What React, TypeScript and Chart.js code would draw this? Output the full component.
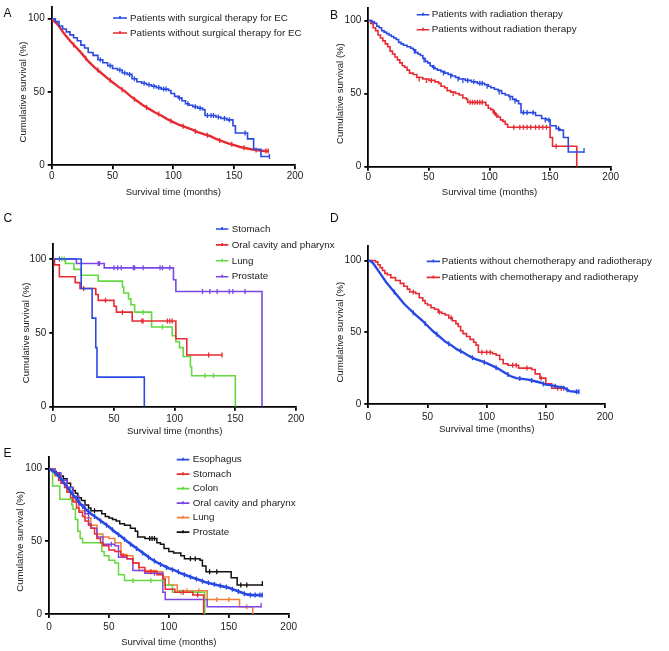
import { useEffect, useRef } from 'react';
import { Chart, registerables } from 'chart.js';

Chart.register(...registerables);

const FONT = '"Liberation Sans", Arial, Helvetica, sans-serif';
const BLUE = '#2a49e2';
const RED = '#e62b33';
const GREEN = '#64d83f';
const PURPLE = '#7b47e4';
const ORANGE = '#f27d38';
const BLACK = '#111111';
const TEXT = '#222222';

type Pt = [number, number];

// ---------- Panel A ----------
const aWithSurgery: Pt[] = [[0,100],[3,98],[6,95],[9,93],[12,91],[15,89],[18,87],[21,85],[24,82],[27,80],[30,77],[34,75],[38,72],[42,70],[46,68],[50,66],[54,65],[58,63],[62,62],[66,59],[70,57],[74,56],[78,55],[82,54],[86,53],[90,52],[96,51],[98,49],[101,47],[104,46],[107,44],[110,42],[113,41],[116,40],[120,39],[124,38],[126,34],[135,33],[139,32],[144,31],[149,27],[151,22],[161,18],[166,11],[172,6],[179,6]];
const aWithSurgeryCensor: Pt[] = [[40,72],[48,68],[56,65],[60,63],[64,62],[68,59],[76,56],[80,55],[84,54],[88,53],[92,52],[94,52],[105,46],[112,42],[118,40],[122,39],[128,34],[131,34],[133,34],[137,33],[142,32],[146,31],[159,22],[179,6]];
const aWithoutSurgery: Pt[] = [[0,100],[5,96],[10,90],[15,85],[20,80.5],[25,76],[30,71],[35,67],[40,63.5],[45,60],[50,56.7],[55,53.5],[60,50.6],[65,47],[70,44],[75,41],[80,38.5],[85,36],[90,34],[95,31.5],[100,29.5],[105,27.5],[110,26],[115,24.5],[120,22.7],[125,21.3],[130,20],[135,18],[140,16.5],[145,15],[150,13.8],[155,12.5],[160,11.6],[165,10.8],[170,10.2],[175,9.8],[178,9.8]];
const aWithoutSurgeryCensor: Pt[] = [[18,82],[28,73],[38,65],[48,58],[58,51.5],[68,45],[78,39.5],[88,35],[98,30.3],[108,26.6],[118,23.3],[128,20.5],[138,17],[148,14.3],[158,12],[168,10.5],[176,9.8],[178,9.8]];

// ---------- Panel B ----------
const bWithRadiation: Pt[] = [[0,100],[3,99],[5,98],[7,96],[9,95],[11,93],[13,92],[15,91],[17,90],[19,89],[21,88],[23,87],[25,85],[27,84],[29,83],[32,82],[35,81],[37,80],[39,78],[41,77],[43,76],[45,74],[47,72],[49,71],[51,69],[53,68],[55,67],[57,66],[60,65],[63,64],[66,63],[69,62],[72,61],[75,60],[80,59],[85,58],[90,57],[96,56],[99,55],[101,54],[104,53],[107,52],[110,50],[113,49],[116,48],[119,46],[122,45],[124,43],[126,37],[138,35],[143,33],[147,32],[150,28],[155,26],[158,25],[161,20],[165,10],[178,10]];
const bWithRadiationCensor: Pt[] = [[38,79],[46,73],[54,68],[62,64],[68,62],[74,60],[78,59],[82,59],[87,58],[92,57],[94,57],[98,55],[108,51],[117,47],[121,45],[128,37],[131,37],[136,37],[146,32],[149,32],[157,26],[178,11]];
const bWithoutRadiation: Pt[] = [[0,100],[2,98],[4,95],[6,93],[8,90],[10,88],[12,86],[14,84],[16,82],[18,79],[20,77],[22,75],[24,73],[26,71],[28,69],[30,68],[32,66],[34,64],[37,63],[40,61],[45,60],[50,59],[55,58],[58,57],[60,55],[63,54],[65,52],[68,51],[72,50],[75,49],[78,47],[81,46],[82,44],[97,42],[99,40],[101,39],[103,37],[105,35],[107,34],[109,32],[111,31],[113,29],[115,27],[149,27],[150,20],[152,14],[171,14],[172,0]];
const bWithoutRadiationCensor: Pt[] = [[42,60],[48,59],[52,59],[70,50],[84,44],[86,44],[88,44],[90,44],[92,44],[94,44],[104,37],[106,35],[120,27],[125,27],[128,27],[131,27],[134,27],[138,27],[141,27],[144,27],[147,27],[155,14]];

// ---------- Panel C ----------
const cStomach: Pt[] = [[0,100],[23,80],[32,60],[35,40],[36,20],[75,0]];
const cStomachCensor: Pt[] = [];
const cOral: Pt[] = [[0,100],[1,96],[5,88],[18,84],[22,80],[35,76],[37,72],[50,68],[52,64],[65,58],[101,46],[110,35],[139,35]];
const cOralCensor: Pt[] = [[25,80],[43,72],[57,64],[73,58],[74,58],[94,58],[96,58],[98,58],[128,35],[139,35]];
const cLung: Pt[] = [[0,100],[10,97],[17,93],[23,89],[37,85],[57,81],[58,77],[62,73],[64,69],[67,64],[81,54],[98,48],[101,44],[104,40],[107,34],[113,27],[114,21],[150,0]];
const cLungCensor: Pt[] = [[7,100],[9,100],[74,64],[90,54],[125,21],[132,21]];
const cProstate: Pt[] = [[0,100],[19,97],[42,94],[99,86],[101,78],[172,0]];
const cProstateCensor: Pt[] = [[5,100],[37,97],[38,97],[50,94],[53,94],[56,94],[66,94],[67,94],[74,94],[88,94],[90,94],[96,94],[123,78],[129,78],[135,78],[145,78],[148,78],[158,78]];

// ---------- Panel D ----------
const dWithoutChemo: Pt[] = [[0,100],[3,99],[5,97],[10,91],[15,85],[20,80],[25,75],[30,70],[35,66],[40,62],[45,58.5],[50,54.5],[55,50.5],[60,47],[65,43.5],[70,41],[75,38],[80,36],[85,33.5],[90,31.5],[95,30],[100,28.5],[105,26.5],[110,24.5],[115,22],[120,19.5],[125,18],[130,17.5],[135,17],[140,16],[145,15],[150,13.5],[155,13],[160,12],[165,11.5],[170,9],[175,8.5],[178,8.5]];
const dWithoutChemoCensor: Pt[] = [[22,78],[38,63.5],[48,56],[58,48.5],[68,42],[78,37],[88,32.3],[98,29],[108,25.3],[118,20.5],[128,17.7],[138,16.4],[148,14],[158,12.4],[168,10],[176,8.5],[178,8.5]];
const dWithChemo: Pt[] = [[0,100],[6,99],[8,97],[10,95],[12,93],[14,91],[16,90],[19,88],[23,86],[27,84],[30,82],[33,80],[35,78],[40,77],[43,74],[46,72],[48,70],[50,69],[53,67],[56,66],[59,64],[62,63],[65,62],[68,60],[71,58],[74,56],[76,54],[78,51],[80,49],[83,47],[86,45],[89,43],[91,41],[93,36],[105,35],[108,34],[111,31],[114,28],[118,27],[127,25],[138,24],[141,21],[145,18],[150,14],[155,11],[165,11]];
const dWithChemoCensor: Pt[] = [[38,78],[60,64],[70,60],[96,36],[100,36],[103,36],[122,27],[125,27],[134,25],[146,18],[160,11],[163,11],[165,11]];

// ---------- Panel E ----------
const eEsophagus: Pt[] = [[0,100],[5,97.5],[10,93],[15,87.5],[20,82],[25,77],[30,72.5],[35,69],[40,66],[45,63],[50,60],[55,56.5],[60,53.5],[65,50],[70,47],[75,44],[80,41],[85,38],[90,35.5],[95,33.5],[100,31.5],[105,30],[110,28],[115,26.5],[120,25],[125,23.5],[130,22],[135,21],[140,20],[145,19],[150,18],[155,16.5],[160,15],[165,13.5],[170,13],[178,13]];
const eEsophagusCensor: Pt[] = [[12,91],[18,84],[24,78],[28,74],[33,70.5],[38,67],[43,64],[48,61],[53,58],[58,54.5],[63,51.5],[68,48],[73,45],[78,42],[83,39],[88,36.5],[93,34],[98,32],[103,30.5],[108,29],[113,27],[118,25.5],[123,24],[128,22.5],[133,21.5],[138,20.5],[143,19.5],[148,18.5],[153,17],[158,15.5],[163,14],[168,13],[172,13],[176,13],[178,13]];
const eStomach: Pt[] = [[0,100],[3,98],[5,96],[8,92],[10,90],[13,87],[15,84],[18,80],[20,77],[23,73],[25,70],[28,67],[30,64],[33,61],[35,59],[38,55],[40,52],[43,49],[45,47],[50,44],[55,43],[60,40],[65,38],[70,35],[75,32],[80,29],[90,27],[95,24],[97,17],[105,15],[120,13],[129,0]];
const eStomachCensor: Pt[] = [[62,40],[85,29],[112,15],[124,13]];
const eColon: Pt[] = [[0,100],[3,88],[9,79],[19,75],[20,72],[22,65],[24,57],[26,52],[28,49],[44,43],[46,40],[50,37],[55,35],[58,27],[63,23],[96,20],[103,15],[130,0]];
const eColonCensor: Pt[] = [[70,23],[85,23],[110,15],[120,15]];
const eOral: Pt[] = [[0,100],[5,97],[10,92],[15,87],[20,81],[25,75],[30,69],[33,62],[35,59],[40,53],[45,48],[55,47],[58,39],[65,38],[70,30],[80,28],[95,15],[97,10],[132,5],[177,5]];
const eOralCensor: Pt[] = [[52,48],[88,28],[177,6]];
const eLung: Pt[] = [[0,100],[5,95],[10,90],[15,84],[20,78],[25,71],[30,66],[35,61],[40,55],[45,53],[50,52],[55,49],[60,41],[65,40],[70,35],[75,30],[90,29],[95,25.5],[100,20],[107,16],[132,10],[159,5],[170,0]];
const eLungCensor: Pt[] = [[115,16],[125,16],[140,10],[150,10],[165,5]];
const eProstate: Pt[] = [[0,100],[3,98],[6,97],[9,95],[12,93],[15,90],[18,87],[20,85],[22,83],[24,80],[27,78],[30,75],[33,73],[35,71],[44,69],[47,67],[50,66],[53,65],[56,64],[59,62],[63,61],[68,59],[72,57],[74,53],[80,52],[90,49],[93,48],[96,45],[100,43],[104,42],[110,40],[113,38],[126,37],[128,33],[131,29],[152,25],[157,20],[178,20]];
const eProstateCensor: Pt[] = [[38,71],[84,52],[86,52],[88,52],[118,38],[122,38],[134,29],[140,29],[160,20],[165,20],[178,21]];

const xTickValues = [0, 50, 100, 150, 200];
const yTickValues = [0, 50, 100];
const xTitle = 'Survival time (months)';
const yTitle = 'Cumulative survival (%)';

type Series = { label: string; color: string; steps: Pt[]; censor: Pt[]; stepped: boolean; width: number };
type Panel = {
  letter: string; letterX: number; letterTop: number;
  L: number; R: number; y0: number; y100: number; ymax: number;
  yTitleX: number; xTitleY: number; xTickPad: number;
  legend: { lineX: number; lineLen: number; textX: number; y: number; dy: number };
  series: Series[];
};

const panels: Panel[] = [
  {
    letter: 'A', letterX: 3.5, letterTop: 8.3, L: 51.7, R: 295, y0: 166, y100: 19, ymax: 108,
    yTitleX: 23, xTitleY: 192.7, xTickPad: 1,
    legend: { lineX: 113, lineLen: 14, textX: 130, y: 18.3, dy: 15 },
    series: [
      { label: 'Patients with surgical therapy for EC', color: BLUE, steps: aWithSurgery, censor: aWithSurgeryCensor, stepped: true, width: 1.6 },
      { label: 'Patients without surgical therapy for EC', color: RED, steps: aWithoutSurgery, censor: aWithoutSurgeryCensor, stepped: false, width: 2.4 },
    ],
  },
  {
    letter: 'B', letterX: 330, letterTop: 10, L: 368.3, R: 610.7, y0: 166, y100: 20, ymax: 108.5,
    yTitleX: 340, xTitleY: 192.3, xTickPad: 1,
    legend: { lineX: 416.7, lineLen: 12.6, textX: 431.7, y: 14.3, dy: 15 },
    series: [
      { label: 'Patients with radiation therapy', color: BLUE, steps: bWithRadiation, censor: bWithRadiationCensor, stepped: true, width: 1.6 },
      { label: 'Patients without radiation therapy', color: RED, steps: bWithoutRadiation, censor: bWithoutRadiationCensor, stepped: true, width: 1.6 },
    ],
  },
  {
    letter: 'C', letterX: 3.5, letterTop: 213, L: 53.3, R: 296, y0: 406.7, y100: 259, ymax: 110,
    yTitleX: 26.7, xTitleY: 431, xTickPad: 3,
    legend: { lineX: 216, lineLen: 12.3, textX: 231.7, y: 229, dy: 15.9 },
    series: [
      { label: 'Stomach', color: BLUE, steps: cStomach, censor: cStomachCensor, stepped: true, width: 1.6 },
      { label: 'Oral cavity and pharynx', color: RED, steps: cOral, censor: cOralCensor, stepped: true, width: 1.6 },
      { label: 'Lung', color: GREEN, steps: cLung, censor: cLungCensor, stepped: true, width: 1.6 },
      { label: 'Prostate', color: PURPLE, steps: cProstate, censor: cProstateCensor, stepped: true, width: 1.6 },
    ],
  },
  {
    letter: 'D', letterX: 330, letterTop: 213.3, L: 368.3, R: 605, y0: 404, y100: 260.7, ymax: 110,
    yTitleX: 340, xTitleY: 430, xTickPad: 3,
    legend: { lineX: 426.7, lineLen: 13.3, textX: 441.7, y: 261.7, dy: 16 },
    series: [
      { label: 'Patients without chemotherapy and radiotherapy', color: BLUE, steps: dWithoutChemo, censor: dWithoutChemoCensor, stepped: false, width: 2.4 },
      { label: 'Patients with chemotherapy and radiotherapy', color: RED, steps: dWithChemo, censor: dWithChemoCensor, stepped: true, width: 1.6 },
    ],
  },
  {
    letter: 'E', letterX: 3.5, letterTop: 448.5, L: 49, R: 288.7, y0: 613.7, y100: 468.3, ymax: 108,
    yTitleX: 20, xTitleY: 641.7, xTickPad: 3.3,
    legend: { lineX: 176.7, lineLen: 12.7, textX: 192.7, y: 459.3, dy: 14.5 },
    series: [
      { label: 'Esophagus', color: BLUE, steps: eEsophagus, censor: eEsophagusCensor, stepped: false, width: 2.6 },
      { label: 'Stomach', color: RED, steps: eStomach, censor: eStomachCensor, stepped: true, width: 1.5 },
      { label: 'Colon', color: GREEN, steps: eColon, censor: eColonCensor, stepped: true, width: 1.5 },
      { label: 'Oral cavity and pharynx', color: PURPLE, steps: eOral, censor: eOralCensor, stepped: true, width: 1.5 },
      { label: 'Lung', color: ORANGE, steps: eLung, censor: eLungCensor, stepped: true, width: 1.5 },
      { label: 'Prostate', color: BLACK, steps: eProstate, censor: eProstateCensor, stepped: true, width: 1.5 },
    ],
  },
];

function boxOf(p: Panel) {
  const T = p.y0 - (p.y0 - p.y100) * p.ymax / 100;
  const x = p.L < 330 ? 0 : 328;
  const w = p.L < 330 ? 345 : 669 - 328;
  const y = Math.min(T - 30, p.letterTop - 4);
  const h = p.xTitleY + 10 - y;
  return { x, y, w, h, T };
}

function PanelChart({ p }: { p: Panel }) {
  const ref = useRef<HTMLCanvasElement>(null);
  const box = boxOf(p);
  useEffect(() => {
    const canvas = ref.current;
    if (!canvas) return;
    const ox = box.x;
    const oy = box.y;
    const wy = p.L - ox;
    const hx = box.h - (p.y0 - oy);
    const padTop = box.T - oy;
    const padRight = ox + box.w - p.R;

    const datasets: any[] = [];
    p.series.forEach((s, i) => {
      datasets.push({
        type: 'line',
        label: s.label,
        data: s.steps.map(([x, y]) => ({ x, y })),
        borderColor: s.color,
        backgroundColor: s.color,
        borderWidth: s.width,
        stepped: s.stepped ? 'before' : false,
        tension: 0,
        pointRadius: 0,
        pointHoverRadius: 0,
        fill: false,
        order: i,
      });
      datasets.push({
        type: 'line',
        label: s.label + ' (censored)',
        data: s.censor.map(([x, y]) => ({ x, y })),
        showLine: false,
        pointStyle: 'line',
        pointRotation: 90,
        pointRadius: 2.5,
        pointHoverRadius: 2.5,
        pointBorderColor: s.color,
        pointBackgroundColor: s.color,
        pointBorderWidth: 1.3,
        order: i,
      });
    });

    const decor = {
      id: 'decor',
      afterDraw(chart: any) {
        const ctx = chart.ctx as CanvasRenderingContext2D;
        const xs = chart.scales.x;
        const ys = chart.scales.y;
        ctx.save();
        ctx.fillStyle = TEXT;
        // x title
        ctx.font = `9.6px ${FONT}`;
        ctx.textAlign = 'center';
        ctx.textBaseline = 'middle';
        ctx.fillText(xTitle, (xs.left + xs.right) / 2, p.xTitleY - oy);
        // y title
        ctx.save();
        ctx.translate(p.yTitleX - ox, (ys.getPixelForValue(0) + ys.getPixelForValue(100)) / 2);
        ctx.rotate(-Math.PI / 2);
        ctx.fillText(yTitle, 0, 0);
        ctx.restore();
        // panel letter
        ctx.font = `12px ${FONT}`;
        ctx.textAlign = 'left';
        ctx.textBaseline = 'alphabetic';
        ctx.fillStyle = '#111';
        ctx.fillText(p.letter, p.letterX - ox, p.letterTop + 8.6 - oy);
        // legend
        const lg = p.legend;
        ctx.font = `9.8px ${FONT}`;
        ctx.textBaseline = 'middle';
        p.series.forEach((s, i) => {
          const y = lg.y + i * lg.dy - oy;
          const x0 = lg.lineX - ox;
          ctx.strokeStyle = s.color;
          ctx.lineWidth = 1.6;
          ctx.beginPath();
          ctx.moveTo(x0, y);
          ctx.lineTo(x0 + lg.lineLen, y);
          ctx.moveTo(x0 + lg.lineLen / 2, y - 2);
          ctx.lineTo(x0 + lg.lineLen / 2, y + 1);
          ctx.stroke();
          ctx.fillStyle = TEXT;
          ctx.fillText(s.label, lg.textX - ox, y);
        });
        ctx.restore();
      },
    };

    const axisCommon = {
      grid: { display: true, drawOnChartArea: false, drawTicks: true, tickLength: 4, color: '#000', lineWidth: 1.8 },
      border: { display: true, color: '#000', width: 1.8 },
    };

    const chart = new Chart(canvas, {
      type: 'line',
      data: { datasets },
      options: {
        responsive: false,
        animation: false,
        devicePixelRatio: 1,
        events: [],
        layout: { padding: { left: 0, top: padTop, right: padRight, bottom: 0 } },
        plugins: { legend: { display: false }, tooltip: { enabled: false } },
        scales: {
          x: {
            type: 'linear',
            min: 0,
            max: 200,
            ...axisCommon,
            afterBuildTicks: (s: any) => { s.ticks = xTickValues.map((v) => ({ value: v })); },
            afterFit: (s: any) => { s.height = hx; },
            ticks: { font: { size: 10, family: FONT }, color: TEXT, padding: p.xTickPad, maxRotation: 0, autoSkip: false },
          },
          y: {
            type: 'linear',
            min: 0,
            max: p.ymax,
            ...axisCommon,
            afterBuildTicks: (s: any) => { s.ticks = yTickValues.map((v) => ({ value: v })); },
            afterFit: (s: any) => { s.width = wy; },
            ticks: { font: { size: 10, family: FONT }, color: TEXT, padding: 3, autoSkip: false },
          },
        },
      } as any,
      plugins: [decor],
    });
    return () => chart.destroy();
  }, []);
  return (
    <canvas
      ref={ref}
      width={box.w}
      height={Math.round(box.h)}
      style={{ position: 'absolute', left: box.x, top: box.y, width: box.w, height: Math.round(box.h) }}
    />
  );
}

export default function App() {
  return (
    <div style={{ position: 'absolute', left: 0, top: 0, width: 669, height: 651, background: '#fff', overflow: 'hidden' }}>
      {panels.map((p) => (
        <PanelChart key={p.letter} p={p} />
      ))}
    </div>
  );
}
